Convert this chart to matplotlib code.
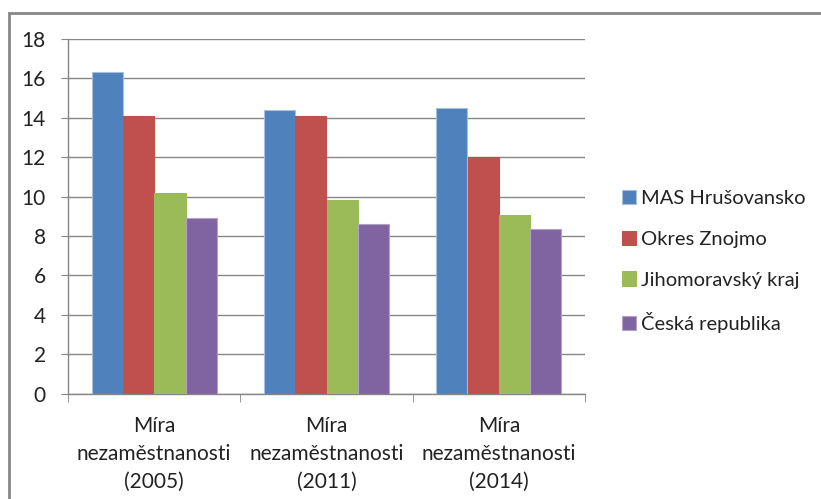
import numpy as np
import matplotlib.pyplot as plt
from matplotlib.patches import Rectangle

plt.rcParams['font.family'] = ['Lato', 'DejaVu Sans']

categories = ['Míra\nnezaměstnanosti\n(2005)', 'Míra\nnezaměstnanosti\n(2011)',
              'Míra\nnezaměstnanosti\n(2014)']
series = ['MAS Hrušovansko', 'Okres Znojmo', 'Jihomoravský kraj', 'Česká republika']
mas = [16.3, 14.4, 14.5]
znojmo = [14.1, 14.1, 12.0]
jmk = [10.2, 9.85, 9.05]
cr = [8.9, 8.6, 8.35]
values = [mas, znojmo, jmk, cr]
colors = ['#4f81bd', '#c0504d', '#9bbb59', '#8064a2']
edges = ['#a7c0de', '#c0504d', '#9bbb59', '#b3a2c7']

fig = plt.figure(figsize=(8.21, 4.99), dpi=100)
ax = fig.add_axes([68/821, 1 - 393.5/499, 517/821, 354.5/499])

# outer chart border
fig.patches.append(Rectangle((9/821, -0.1), 1.0, (499 - 13)/499 + 0.1,
                             transform=fig.transFigure, fill=False,
                             edgecolor='#868686', linewidth=2))

n = len(series)
bw = 1 / (n + 1.5)
x = np.arange(len(categories))
for i, (vals, c, e) in enumerate(zip(values, colors, edges)):
    ax.bar(x - 2 * bw + i * bw + bw / 2, vals, bw, color=c, edgecolor=e,
           linewidth=0.8, label=series[i], zorder=3)

ax.set_xlim(-0.5, len(categories) - 0.5)
ax.set_ylim(0, 18)
ax.set_yticks(np.arange(0, 19, 2))
ax.yaxis.grid(True, color='#868686', linewidth=1, zorder=0)
for s in ['top', 'right']:
    ax.spines[s].set_visible(False)
for s in ['left', 'bottom']:
    ax.spines[s].set_color('#868686')
    ax.spines[s].set_linewidth(1)

ax.set_xticks(x)
ax.set_xticklabels(categories, fontsize=15, linespacing=1.5, color='#222222')
ax.set_xticks(np.arange(-0.5, len(categories)), minor=True)
ax.tick_params(axis='x', which='major', length=0, pad=16)
ax.tick_params(axis='x', which='minor', length=6, color='#868686')
ax.tick_params(axis='y', length=5, color='#868686', labelsize=15, pad=11,
               labelcolor='#222222')

ax.legend(loc='center left', bbox_to_anchor=(546/517, 0.372), frameon=False,
          fontsize=14.5, handlelength=0.7, handleheight=0.7, handletextpad=0.25,
          labelspacing=1.17, borderaxespad=0, labelcolor='#222222')

fig.savefig('out.png', dpi=100)
